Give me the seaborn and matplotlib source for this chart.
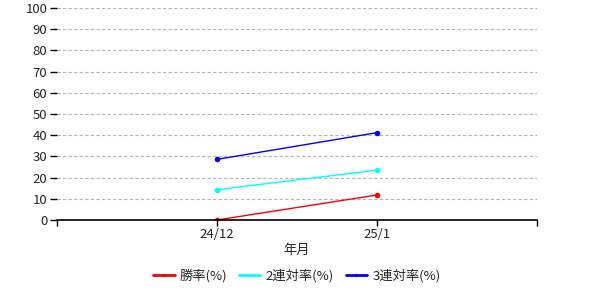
import matplotlib
matplotlib.use("Agg")
import matplotlib.pyplot as plt
import seaborn as sns
import pandas as pd

months = ["24/12", "25/1"]
win_rate = [0.0, 11.8]
top2_rate = [14.3, 23.5]
top3_rate = [28.6, 41.2]
series_names = ["勝率(%)", "2連対率(%)", "3連対率(%)"]
colors = ["#ff0000", "#00ffff", "#0000ff"]

sns.set_theme(style="white")
plt.rcParams['font.family'] = ['Noto Sans CJK JP', 'DejaVu Sans']

rows = []
for name, vals in zip(series_names, [win_rate, top2_rate, top3_rate]):
    for m, v in zip(months, vals):
        rows.append({"年月": m, "値": v, "系列": name})
df = pd.DataFrame(rows)

fig = plt.figure(figsize=(6, 3), dpi=100)
ax = fig.add_axes([0.095, 0.2667, 0.8, 0.7066])
sns.lineplot(data=df, x="年月", y="値", hue="系列", palette=colors,
             marker="o", markersize=4, markeredgewidth=0, linewidth=1,
             sort=False, ax=ax, legend=True)

ax.set_xlim(-1, 2)
ax.set_ylim(0, 100)
ax.set_xticks([-1, 0, 1, 2])
ax.set_xticklabels(["", months[0], months[1], ""], fontsize=9.5)
ax.set_yticks(range(0, 101, 10))
ax.set_yticklabels([str(v) for v in range(0, 101, 10)], fontsize=9.5)
ax.tick_params(axis="y", which="major", length=5, width=1, color="black",
               direction="out", left=True, pad=2)
ax.tick_params(axis="x", which="major", length=4, width=1, color="black",
               direction="out", bottom=True, pad=2)
for y in range(10, 101, 10):
    ax.axhline(y, color="#b4b4b4", linestyle=(0, (3, 2)), linewidth=0.8, zorder=0)
for s in ["top", "right", "left"]:
    ax.spines[s].set_visible(False)
ax.spines["bottom"].set_color("black")
ax.spines["bottom"].set_linewidth(1.2)
ax.set_ylabel("")
ax.set_xlabel("年月", fontsize=9.5, labelpad=2)

handles, labels = ax.get_legend_handles_labels()
ax.get_legend().remove()
leg = fig.legend(handles, labels, loc="center", bbox_to_anchor=(0.495, 0.08), ncol=3,
                 frameon=False, fontsize=9.5, handlelength=1.6, columnspacing=0.9,
                 handletextpad=0.4, markerscale=0.6)
for h in leg.legend_handles:
    h.set_linewidth(2)

fig.savefig("out.png", dpi=100)
